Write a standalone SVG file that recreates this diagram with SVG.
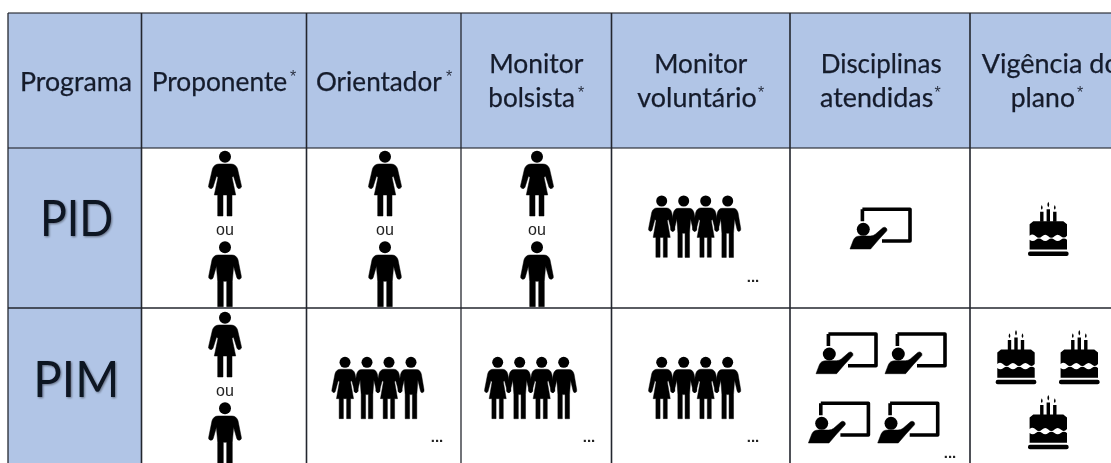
<svg xmlns="http://www.w3.org/2000/svg" width="1111" height="463" viewBox="0 0 1111 463">
<style>
.hd{fill:#b1c5e6}
.t{font-family:Lato,"Noto Sans",sans-serif;font-size:26.5px;fill:#141b2c;stroke:#141b2c;stroke-width:.25}
.big{font-family:Lato,"Noto Sans",sans-serif;font-size:51px;fill:#0b1220;filter:url(#shadow)}
.star{font-family:"Liberation Sans",Arial,sans-serif;font-size:16px;fill:#2a3142;text-anchor:middle}
.ou{font-family:"Liberation Sans",Arial,sans-serif;font-size:16px;fill:#222;text-anchor:middle}
.dots{font-family:"Liberation Sans",Arial,sans-serif;font-size:15px;font-weight:700;fill:#222;text-anchor:middle}
.grid{stroke:#23262e;stroke-width:1.6;fill:none}
.soft{filter:url(#soft)}
.ink{stroke:#000;stroke-width:.5;stroke-linejoin:round}
</style>
<defs>
<filter id="soft" x="-5%" y="-5%" width="110%" height="110%"><feGaussianBlur stdDeviation="0.35"/></filter>
<filter id="shadow" x="-10%" y="-10%" width="125%" height="130%"><feGaussianBlur in="SourceAlpha" stdDeviation="1.2"/><feOffset dx="1" dy="1"/><feComponentTransfer><feFuncA type="linear" slope="0.45"/></feComponentTransfer><feMerge><feMergeNode/><feMergeNode in="SourceGraphic"/></feMerge></filter>
<path id="womanBody" class="ink" d="M-6 7.3H6C9 7.3 11.5 9 12.5 12L16.3 28.5A2.3 2.3 0 0 1 12 30.5L8.500 19.500 7 20.500 10.700 38.300H7V59.300H2V38.300H-2V59.300H-7.300V38.300H-10.700L-7 20.500-8.500 19.500-12 30.500A2.300 2.300 0 0 1-16.300 28.500L-12.500 12C-11.500 9-9 7.300-6 7.300Z"/>
<path id="manBody" class="ink" d="M-7 7.700H7C10 7.700 12 9.500 13 12.500L16.300 29A2.300 2.300 0 0 1 11.800 30.200L8.600 19 7.300 34V59.400H1.700V34H-1.700V59.400H-7.300V34L-8.600 19-11.800 30.200A2.300 2.300 0 0 1-16.300 29L-13 12.500C-12 9.500-10 7.700-7 7.700Z"/>
<g id="woman"><circle r="6"/><use href="#womanBody"/></g>
<g id="man"><circle r="6"/><use href="#manBody"/></g>
<g id="pair"><use href="#woman"/><text class="ou" x="0" y="78">ou</text><use href="#man" y="90.600"/></g>
<g id="four">
<circle r="5.500"/><circle cx="22" r="5.500"/><circle cx="44" r="5.500"/><circle cx="66" r="5.500"/>
<use href="#womanBody" transform="scale(.8 .95)"/>
<use href="#manBody" transform="translate(22) scale(.8 .95)"/>
<use href="#womanBody" transform="translate(44) scale(.8 .95)"/>
<use href="#manBody" transform="translate(66) scale(.8 .95)"/>
</g>
<g id="teacher">
<circle r="6.500"/>
<path d="M-.9-20V-8M-.9-20H46.700V11.700H18.700" fill="none" stroke="#000" stroke-width="3.600" stroke-linejoin="round"/>
<path class="ink" d="M-13.300 19.700L-10 11Q-8.500 6.700-3 6.700H7Q10 6.700 12 5L19.500-1.500A2.600 2.600 0 0 1 23.500 1.500L15 10.700 7.300 19.700Z"/>
</g>
<g id="cake">
<path d="M-6.500 3.300Q-8.200 6.200-6.500 8Q-4.800 6.200-6.500 3.300ZM6.500 3.300Q4.800 6.200 6.500 8Q8.200 6.200 6.500 3.300ZM0 0Q-1.800 3.200 0 5.500Q1.800 3.200 0 0Z"/>
<path d="M-8.200 10H-4.800V20H-1.700V7.500H1.700V20H4.800V10H8.200V20H-8.200Z"/>
<path d="M-18.700 34V22.500L-15 19.500H15L18.700 22.500V34Q15.600 37.500 12.500 34.500T6.200 34.500T0 34.500T-6.200 34.500T-12.500 34.500T-18.700 34Z"/>
<path d="M-18.700 38Q-15.600 40.500-12.500 38T-6.200 38T0 38T6.200 38T12.500 38T18.700 38V47.700H-18.700Z"/>
<rect x="-20.300" y="49.700" width="40.600" height="4.600" rx="2"/>
</g>
</defs>

<rect width="1111" height="463" fill="#fff"/>

<g id="header-background">
<rect class="hd" x="8" y="13" width="1103" height="135"/>
<rect class="hd" x="8" y="148" width="133.500" height="315"/>
</g>

<g id="grid">
<path class="grid" d="M141.500 13V463M306.500 13V463M611.500 13V463M790 13V463M970 13V463"/>
<path class="grid" stroke-opacity=".8" d="M8 13V463M461 13V463"/>
<path class="grid" stroke-opacity=".75" d="M8 13H1111M8 148H1111" stroke-width="2"/>
<path class="grid" d="M8 308H1111"/>
</g>

<g id="header-programa" class="soft"><text class="t" x="20" y="91" textLength="112" lengthAdjust="spacingAndGlyphs">Programa</text></g>
<g id="header-proponente" class="soft"><text class="t" x="151.700" y="91" textLength="135.500" lengthAdjust="spacingAndGlyphs">Proponente</text><text class="star" x="293" y="81.500">*</text></g>
<g id="header-orientador" class="soft"><text class="t" x="316" y="91" textLength="125.700" lengthAdjust="spacingAndGlyphs">Orientador</text><text class="star" x="449" y="81.500">*</text></g>
<g id="header-bolsista" class="soft"><text class="t" x="489.300" y="73.300" textLength="94" lengthAdjust="spacingAndGlyphs">Monitor</text><text class="t" x="488.300" y="107.300" textLength="86.700" lengthAdjust="spacingAndGlyphs">bolsista</text><text class="star" x="581" y="97.500">*</text></g>
<g id="header-voluntario" class="soft"><text class="t" x="654.300" y="73.300" textLength="93" lengthAdjust="spacingAndGlyphs">Monitor</text><text class="t" x="637.300" y="107.300" textLength="119.400" lengthAdjust="spacingAndGlyphs">voluntário</text><text class="star" x="761" y="97.500">*</text></g>
<g id="header-disciplinas" class="soft"><text class="t" x="820.700" y="73.300" textLength="121" lengthAdjust="spacingAndGlyphs">Disciplinas</text><text class="t" x="820" y="107.300" textLength="113.300" lengthAdjust="spacingAndGlyphs">atendidas</text><text class="star" x="937.700" y="97.500">*</text></g>
<g id="header-vigencia" class="soft"><text class="t" x="981.700" y="73.300" textLength="138" lengthAdjust="spacingAndGlyphs">Vigência do</text><text class="t" x="1010.700" y="107.300" textLength="64.300" lengthAdjust="spacingAndGlyphs">plano</text><text class="star" x="1080" y="97.500">*</text></g>

<g id="row-pid"><text class="big" x="40" y="236" textLength="73.300" lengthAdjust="spacingAndGlyphs">PID</text></g>
<g id="row-pim"><text class="big" x="33.300" y="397.300" textLength="86" lengthAdjust="spacingAndGlyphs">PIM</text></g>

<g id="pid-proponente" class="soft"><use href="#pair" x="225" y="156.700"/></g>
<g id="pid-orientador" class="soft"><use href="#pair" x="385" y="156.700"/></g>
<g id="pid-bolsista" class="soft"><use href="#pair" x="537" y="156.700"/></g>
<g id="pid-voluntario" class="soft"><use href="#four" x="661.700" y="201"/><text class="dots" x="753" y="282">...</text></g>
<g id="pid-disciplinas" class="soft"><use href="#teacher" x="863.300" y="229.300"/></g>
<g id="pid-vigencia" class="soft"><use href="#cake" x="1048.300" y="201.700"/></g>

<g id="pim-proponente" class="soft"><use href="#pair" x="225" y="317.700"/></g>
<g id="pim-orientador" class="soft"><use href="#four" x="345" y="362.300"/><text class="dots" x="437" y="442">...</text></g>
<g id="pim-bolsista" class="soft"><use href="#four" x="497.700" y="362.300"/><text class="dots" x="589" y="442">...</text></g>
<g id="pim-voluntario" class="soft"><use href="#four" x="661.700" y="362.300"/><text class="dots" x="753" y="442">...</text></g>
<g id="pim-disciplinas" class="soft"><use href="#teacher" x="829.300" y="354"/><use href="#teacher" x="898.300" y="354"/><use href="#teacher" x="821.700" y="423.300"/><use href="#teacher" x="891" y="423.300"/><text class="dots" x="950" y="458">...</text></g>
<g id="pim-vigencia" class="soft"><use href="#cake" x="1016" y="330"/><use href="#cake" x="1079.300" y="330"/><use href="#cake" x="1048.300" y="395"/></g>
</svg>
